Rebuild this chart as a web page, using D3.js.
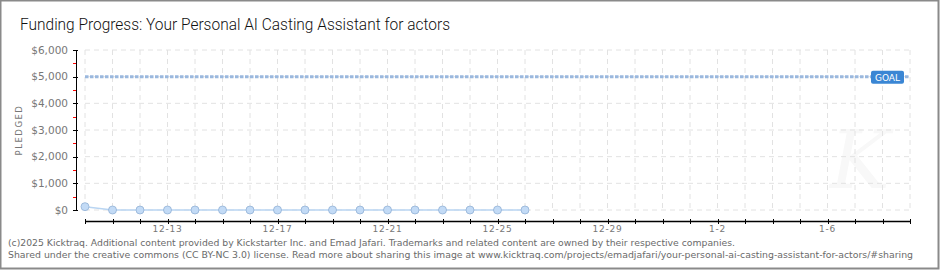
<!DOCTYPE html>
<html>
<head>
<meta charset="utf-8">
<script src="https://cdnjs.cloudflare.com/ajax/libs/d3/7.8.5/d3.min.js"></script>
<style>
  body { margin: 0; background: #fff; }
  svg { display: block; }
</style>
</head>
<body>
<svg width="940" height="270"></svg>
<script>
// data
var dates = ["2025-12-10", "2025-12-11", "2025-12-12", "2025-12-13", "2025-12-14", "2025-12-15",
    "2025-12-16", "2025-12-17", "2025-12-18", "2025-12-19", "2025-12-20", "2025-12-21",
    "2025-12-22", "2025-12-23", "2025-12-24", "2025-12-25", "2025-12-26"];
var pledged = [125, 0, 0, 0, 0, 0, 0, 0, 0, 0, 0, 0, 0, 0, 0, 0, 0];
var goal = 5000;
var yTicks = [0, 1000, 2000, 3000, 4000, 5000, 6000];
var xStart = "2025-12-10", xEnd = "2026-01-09";
var xLabelDates = ["2025-12-13", "2025-12-17", "2025-12-21", "2025-12-25", "2025-12-29", "2026-01-02", "2026-01-06"];

var parseDate = d3.timeParse("%Y-%m-%d");
var data = dates.map(function(d, i) {
    return { date: parseDate(d), value: pledged[i] };
});

var svg = d3.select("svg"),
    margin = { top: 50, right: 30, bottom: 60, left: 85 },
    width = +svg.attr("width") - margin.left - margin.right,
    height = +svg.attr("height") - margin.top - margin.bottom;

// outer frame
svg.append("rect")
    .attr("x", 0.5).attr("y", 0.5)
    .attr("width", 938).attr("height", 268)
    .attr("fill", "#fff")
    .attr("stroke", "#8a8a8a")
    .attr("stroke-width", 2);

svg.append("text")
    .attr("x", 20).attr("y", 30)
    .attr("font-family", "Roboto, sans-serif")
    .attr("font-size", 16.5)
    .attr("font-weight", 300)
    .attr("fill", "#111")
    .attr("textLength", 430)
    .attr("lengthAdjust", "spacingAndGlyphs")
    .text("Funding Progress: Your Personal AI Casting Assistant for actors");

var g = svg.append("g")
    .attr("transform", "translate(" + margin.left + "," + margin.top + ")");

var x = d3.scaleTime()
    .domain([parseDate(xStart), parseDate(xEnd)])
    .range([0, width]);

var y = d3.scaleLinear()
    .domain([0, 6000])
    .range([height, 0]);

var days = d3.timeDay.range(parseDate(xStart), d3.timeDay.offset(parseDate(xEnd), 1));

// watermark
g.append("text")
    .attr("x", width - 50).attr("y", height - 22)
    .attr("font-family", "DejaVu Serif, serif")
    .attr("font-style", "italic")
    .attr("font-size", 80)
    .attr("fill", "#f8f8f8")
    .attr("text-anchor", "middle")
    .text("K");

// grid
g.selectAll(".hgrid")
    .data(yTicks)
    .enter().append("line")
    .attr("x1", 0).attr("x2", width)
    .attr("y1", function(d) { return y(d); })
    .attr("y2", function(d) { return y(d); })
    .attr("stroke", "#e2e2e2")
    .attr("stroke-dasharray", "5,4");

g.selectAll(".vgrid")
    .data(days)
    .enter().append("line")
    .attr("x1", function(d) { return x(d); })
    .attr("x2", function(d) { return x(d); })
    .attr("y1", 0).attr("y2", height)
    .attr("stroke", "#e2e2e2")
    .attr("stroke-dasharray", "5,4");

// y axis (offset left of plot)
var yAxis = g.append("g")
    .attr("transform", "translate(-9,0)");
yAxis.append("line")
    .attr("x1", 0.5).attr("x2", 0.5)
    .attr("y1", 0).attr("y2", height)
    .attr("stroke", "#000");
yAxis.selectAll(".minor")
    .data(d3.range(500, 6000, 1000))
    .enter().append("line")
    .attr("x1", -3).attr("x2", 0)
    .attr("y1", function(d) { return Math.round(y(d)) + 0.5; })
    .attr("y2", function(d) { return Math.round(y(d)) + 0.5; })
    .attr("stroke", "#ff0000");
yAxis.selectAll(".major")
    .data(yTicks)
    .enter().append("line")
    .attr("x1", -3).attr("x2", 2)
    .attr("y1", function(d) { return Math.round(y(d)) + 0.5; })
    .attr("y2", function(d) { return Math.round(y(d)) + 0.5; })
    .attr("stroke", "#000");
yAxis.selectAll(".ylab")
    .data(yTicks)
    .enter().append("text")
    .attr("x", -8)
    .attr("y", function(d) { return y(d); })
    .attr("dy", "0.35em")
    .attr("text-anchor", "end")
    .attr("font-family", "DejaVu Sans, sans-serif")
    .attr("font-size", 10.5)
    .attr("fill", "#777")
    .text(d3.format("$,"));

svg.append("text")
    .attr("transform", "translate(22," + (margin.top + height / 2) + ") rotate(-90)")
    .attr("text-anchor", "middle")
    .attr("font-family", "DejaVu Sans, sans-serif")
    .attr("font-size", 8.5)
    .attr("letter-spacing", 1.5)
    .attr("fill", "#777")
    .text("PLEDGED");

// x axis (offset below plot)
var xAxis = g.append("g")
    .attr("transform", "translate(0," + (height + 11) + ")");
xAxis.append("line")
    .attr("x1", 0).attr("x2", width)
    .attr("y1", 0.5).attr("y2", 0.5)
    .attr("stroke", "#000")
    .attr("stroke-width", 1.5);
xAxis.selectAll(".xtick")
    .data(days)
    .enter().append("line")
    .attr("x1", function(d) { return Math.round(x(d)) + 0.5; })
    .attr("x2", function(d) { return Math.round(x(d)) + 0.5; })
    .attr("y1", -2).attr("y2", 3)
    .attr("stroke", "#000");
var fmt = d3.timeFormat("%-m-%-d");
xAxis.selectAll(".xlab")
    .data(xLabelDates.map(parseDate))
    .enter().append("text")
    .attr("x", function(d) { return x(d); })
    .attr("y", 11)
    .attr("text-anchor", "middle")
    .attr("font-family", "DejaVu Sans, sans-serif")
    .attr("font-size", 9)
    .attr("letter-spacing", 0.8)
    .attr("fill", "#777")
    .text(function(d) { return fmt(d); });

// goal line
g.append("line")
    .attr("x1", 0).attr("x2", width)
    .attr("y1", y(goal)).attr("y2", y(goal))
    .attr("stroke", "#9ab8de")
    .attr("stroke-width", 3)
    .attr("stroke-dasharray", "3.5,1.5");
var gl = g.append("g")
    .attr("transform", "translate(" + (width - 39) + "," + (y(goal) - 6) + ")");
gl.append("rect")
    .attr("width", 33).attr("height", 13)
    .attr("rx", 2)
    .attr("fill", "#3a86d4");
gl.append("text")
    .attr("x", 16.5).attr("y", 10)
    .attr("text-anchor", "middle")
    .attr("font-family", "DejaVu Sans, sans-serif")
    .attr("font-size", 9)
    .attr("fill", "#fff")
    .text("GOAL");

// pledged line + points
g.append("path")
    .datum(data)
    .attr("fill", "none")
    .attr("stroke", "#b9d5f2")
    .attr("stroke-width", 1.5)
    .attr("d", d3.line()
        .x(function(d) { return x(d.date); })
        .y(function(d) { return y(d.value); }));

g.selectAll(".dot")
    .data(data)
    .enter().append("circle")
    .attr("cx", function(d) { return x(d.date); })
    .attr("cy", function(d) { return y(d.value); })
    .attr("r", 4)
    .attr("fill", "#c3dbf6")
    .attr("stroke", "#92b1d6")
    .attr("stroke-width", 0.8);

// footer
var foot = [
    "(c)2025 Kicktraq. Additional content provided by Kickstarter Inc. and Emad Jafari. Trademarks and related content are owned by their respective companies.",
    "Shared under the creative commons (CC BY-NC 3.0) license. Read more about sharing this image at www.kicktraq.com/projects/emadjafari/your-personal-ai-casting-assistant-for-actors/#sharing"
];
var footLen = [727, 905];
svg.selectAll(".foot")
    .data(foot)
    .enter().append("text")
    .attr("x", 8)
    .attr("y", function(d, i) { return 246 + i * 12; })
    .attr("font-family", "DejaVu Sans, sans-serif")
    .attr("font-size", 9.5)
    .attr("fill", "#6a6a6a")
    .attr("textLength", function(d, i) { return footLen[i]; })
    .attr("lengthAdjust", "spacingAndGlyphs")
    .text(function(d) { return d; });
</script>
</body>
</html>
